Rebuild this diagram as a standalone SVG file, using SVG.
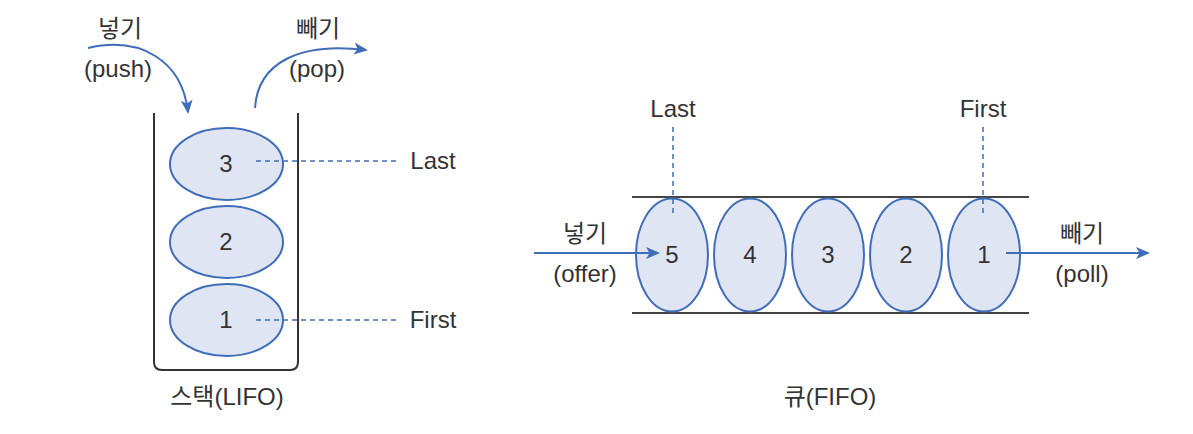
<svg xmlns="http://www.w3.org/2000/svg" width="1193" height="434" viewBox="0 0 1193 434">
<style>
text{font-family:"Liberation Sans","Noto Sans CJK KR",sans-serif;font-size:24px;fill:#333;text-anchor:middle}
.el{fill:#e0e5f3;stroke:#3f6db8;stroke-width:2}
.dash{stroke:#3f6db8;stroke-width:1.5;stroke-dasharray:5 4;fill:none}
.arr{stroke:#3f6db8;stroke-width:2;fill:none;marker-end:url(#ah)}
.box{stroke:#333;stroke-width:2;fill:none}
.qline{stroke:#444;stroke-width:2}
</style>
<defs>
<marker id="ah" viewBox="0 0 14 12" refX="12" refY="6" markerWidth="14" markerHeight="12" markerUnits="userSpaceOnUse" orient="auto">
<path d="M0,0 L14,6 L0,12 L3.5,6 Z" fill="#3f6db8"/>
</marker>
</defs>
<rect width="1193" height="434" fill="#fff"/>
<g id="stack">
<path class="box" d="M154,113 V362 Q154,370 162,370 H290 Q298,370 298,362 V113"/>
<text x="227" y="405">스택(LIFO)</text>
</g>
<g id="s3"><ellipse class="el" cx="226.5" cy="164" rx="56.5" ry="36"/><text x="226" y="172">3</text></g>
<g id="s2"><ellipse class="el" cx="226.5" cy="242" rx="56.5" ry="36"/><text x="226" y="250">2</text></g>
<g id="s1"><ellipse class="el" cx="226.5" cy="320" rx="56.5" ry="36"/><text x="226" y="328">1</text></g>
<g id="labels-stack">
<text x="120" y="37">넣기</text>
<text x="118" y="77">(push)</text>
<text x="318" y="37">빼기</text>
<text x="317" y="77">(pop)</text>
<text x="433" y="169">Last</text>
<text x="433" y="328">First</text>
</g>
<g id="queue">
<line class="qline" x1="632" y1="197" x2="1029" y2="197"/>
<line class="qline" x1="632" y1="313" x2="1029" y2="313"/>
<text x="830" y="405">큐(FIFO)</text>
</g>
<g id="q5"><ellipse class="el" cx="672" cy="255" rx="36" ry="56.5"/><text x="672" y="263">5</text></g>
<g id="q4"><ellipse class="el" cx="750" cy="255" rx="36" ry="56.5"/><text x="750" y="263">4</text></g>
<g id="q3"><ellipse class="el" cx="828" cy="255" rx="36" ry="56.5"/><text x="828" y="263">3</text></g>
<g id="q2"><ellipse class="el" cx="906" cy="255" rx="36" ry="56.5"/><text x="906" y="263">2</text></g>
<g id="q1"><ellipse class="el" cx="984" cy="255" rx="36" ry="56.5"/><text x="984" y="263">1</text></g>
<g id="labels-queue">
<text x="673" y="117">Last</text>
<text x="983" y="117">First</text>
<text x="585" y="242">넣기</text>
<text x="585" y="282">(offer)</text>
<text x="1082" y="242">빼기</text>
<text x="1082" y="282">(poll)</text>
</g>
<g id="connectors">
<path class="arr" d="M88,48 C140,36 182,60 188,112"/>
<path class="arr" d="M255,108 C258,62 300,42 366,50"/>
<line class="dash" x1="256" y1="161" x2="397" y2="161"/>
<line class="dash" x1="256" y1="320" x2="397" y2="320"/>
<line class="dash" x1="673" y1="127" x2="673" y2="213"/>
<line class="dash" x1="983" y1="127" x2="983" y2="213"/>
<line class="arr" x1="534" y1="253" x2="658" y2="253"/>
<line class="arr" x1="1006" y1="253" x2="1148" y2="253"/>
</g>
</svg>
